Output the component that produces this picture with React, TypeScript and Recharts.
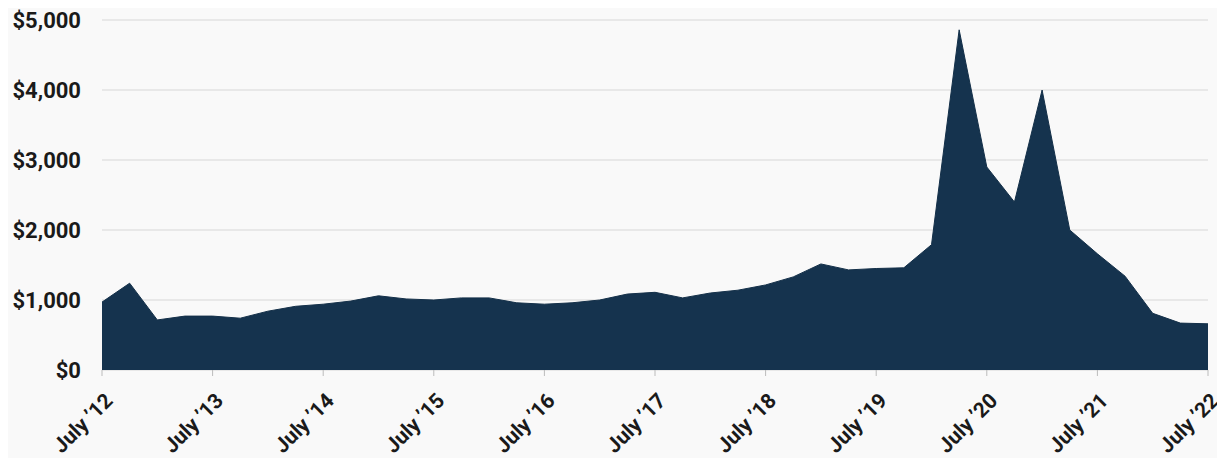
import React from "react";
import { AreaChart, Area, XAxis, YAxis, CartesianGrid } from "recharts";

const yearLabels = ["July ’12", "July ’13", "July ’14", "July ’15", "July ’16", "July ’17", "July ’18", "July ’19", "July ’20", "July ’21", "July ’22"];
const quarterIndex = Array.from({ length: 41 }, (_, i) => i);
const values = [
  970, 1240, 715, 770, 770, 740, 840, 910, 940, 985,
  1060, 1015, 1000, 1030, 1030, 960, 940, 960, 1000, 1085,
  1110, 1030, 1100, 1140, 1215, 1330, 1515, 1430, 1450, 1460,
  1790, 4860, 2900, 2400, 4000, 2000, 1660, 1340, 810, 670,
  660,
];
const yTicks = [0, 1000, 2000, 3000, 4000, 5000];
const xTicks = [0, 4, 8, 12, 16, 20, 24, 28, 32, 36, 40];

const data = quarterIndex.map((q, i) => ({ q, value: values[i] }));

const FONT = "Roboto, 'DejaVu Sans', sans-serif";

const XTick = (props: any) => {
  const { x, y, payload } = props;
  const label = yearLabels[xTicks.indexOf(payload.value)];
  const tx = x + 12;
  const ty = y + 24;
  return (
    <text
      x={tx}
      y={ty}
      transform={`rotate(-45, ${tx}, ${ty})`}
      textAnchor="end"
      fontFamily={FONT}
      fontWeight={700}
      fontSize={21}
      fill="#1a1a1a"
    >
      {label}
    </text>
  );
};

const fmt = (v: number) => "$" + v.toLocaleString("en-US");

export default function App() {
  return (
    <div style={{ width: 1217, height: 450, background: "#f9f9f9" }}>
      <AreaChart
        width={1217}
        height={450}
        data={data}
        margin={{ top: 12, right: 17, bottom: 0, left: 0 }}
      >
        <CartesianGrid vertical={false} stroke="#e2e2e2" strokeWidth={1.5} />
        <XAxis
          dataKey="q"
          type="number"
          domain={[0, 40]}
          ticks={xTicks}
          interval={0}
          axisLine={false}
          tickLine={{ stroke: "#bbbbbb" }}
          tickSize={6}
          height={88}
          tick={<XTick />}
        />
        <YAxis
          domain={[0, 5000]}
          ticks={yTicks}
          interval={0}
          axisLine={false}
          tickLine={false}
          tickSize={0}
          tickMargin={21}
          width={94}
          tickFormatter={fmt}
          tick={{ fontFamily: FONT, fontWeight: 700, fontSize: 22, fill: "#1a1a1a" }}
        />
        <Area
          type="linear"
          dataKey="value"
          stroke="#143049"
          strokeWidth={1}
          fill="#15334e"
          fillOpacity={1}
          isAnimationActive={false}
        />
      </AreaChart>
    </div>
  );
}
